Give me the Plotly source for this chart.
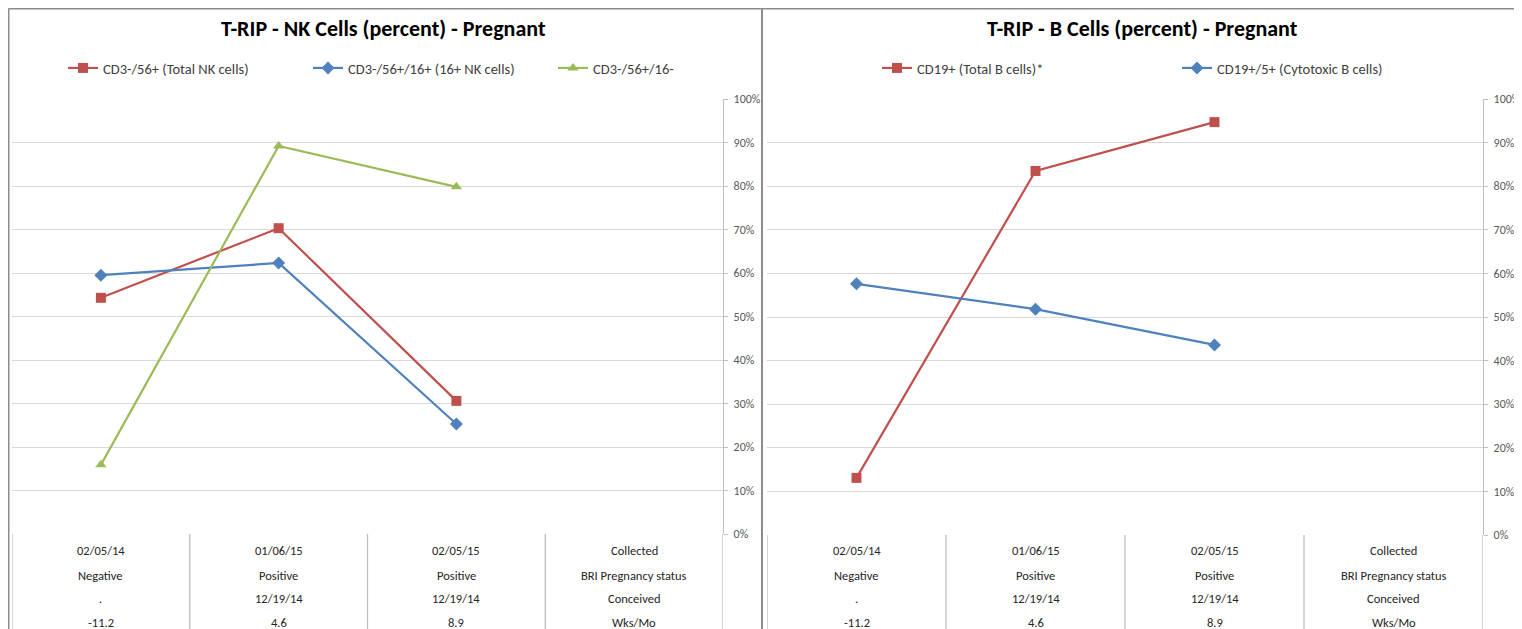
import plotly.graph_objects as go

# ---------------- data ----------------
collected = ["02/05/14", "01/06/15", "02/05/15", "Collected"]
status = ["Negative", "Positive", "Positive", "BRI Pregnancy status"]
conceived = [".", "12/19/14", "12/19/14", "Conceived"]
wks = ["-11.2", "4.6", "8.9", "Wks/Mo"]
x_pos = [0, 1, 2]

nk_total = [0.543, 0.703, 0.306]      # CD3-/56+ (Total NK cells)
nk_16pos = [0.595, 0.623, 0.253]      # CD3-/56+/16+ (16+ NK cells)
nk_16neg = [0.159, 0.892, 0.798]      # CD3-/56+/16-

b_total = [0.131, 0.835, 0.947]       # CD19+ (Total B cells)*
b_cyto = [0.576, 0.518, 0.436]        # CD19+/5+ (Cytotoxic B cells)

titles = ["T-RIP - NK Cells (percent) - Pregnant", "T-RIP - B Cells (percent) - Pregnant"]

RED = "#C0504D"
BLUE = "#4F81BD"
GREEN = "#9BBB59"
GRID = "#D9D9D9"
FONT = "Carlito, Lato, sans-serif"

W, H = 1522, 629
OFF = 8  # page body margin


def px(x):
    return max(x - OFF, 0.5) / W


def py(y):
    return 1 - max(y - OFF, 0.5) / H


fig = go.Figure()


def add_line(x, y, name, color, symbol, size, xa, ya, legend):
    fig.add_trace(go.Scatter(
        x=x, y=y, name=name, mode="lines+markers",
        line=dict(color=color, width=2.2),
        marker=dict(symbol=symbol, size=size, color=color),
        xaxis=xa, yaxis=ya, legend=legend,
    ))


add_line(x_pos, nk_total, "CD3-/56+ (Total NK cells)", RED, "square", 10, "x", "y", "legend")
add_line(x_pos, nk_16pos, "CD3-/56+/16+ (16+ NK cells)", BLUE, "diamond", 10, "x", "y", "legend")
add_line(x_pos, nk_16neg, "CD3-/56+/16-", GREEN, "triangle-up", 10, "x", "y", "legend")
add_line(x_pos, b_total, "CD19+ (Total B cells)*", RED, "square", 10, "x2", "y2", "legend2")
add_line(x_pos, b_cyto, "CD19+/5+ (Cytotoxic B cells)", BLUE, "diamond", 10, "x2", "y2", "legend2")

panels = [
    dict(xl=12, xr=723, y0=534, y1=99, title_x=383),
    dict(xl=767, xr=1483, y0=535, y1=99, title_x=1142),
]

axis_common_x = dict(range=[-0.5, 3.5], showticklabels=False, showgrid=False,
                     zeroline=False, showline=False, ticks="", fixedrange=True)
axis_common_y = dict(range=[0, 1], dtick=0.1, tickformat=".0%", side="right",
                     showgrid=True, gridcolor=GRID, gridwidth=1.3, zeroline=False,
                     showline=True, linecolor="#BFBFBF", linewidth=1.3,
                     ticks="outside", ticklen=4, tickcolor="#BFBFBF",
                     ticklabelstandoff=3,
                     tickfont=dict(family=FONT, size=12, color="#595959"),
                     automargin=False, fixedrange=True)

layout = dict(
    width=W, height=H, margin=dict(l=0, r=0, t=0, b=0, autoexpand=False),
    paper_bgcolor="white", plot_bgcolor="white",
    font=dict(family=FONT, size=12, color="#404040"),
)
for i, p in enumerate(panels):
    sx = "" if i == 0 else "2"
    layout["xaxis" + sx] = dict(domain=[px(p["xl"]), px(p["xr"])], anchor="y" + sx, **axis_common_x)
    layout["yaxis" + sx] = dict(domain=[py(p["y0"]), py(p["y1"])], anchor="x" + sx, **axis_common_y)
fig.update_layout(**layout)

fig.update_layout(
    legend=dict(orientation="h", x=px(63), y=py(68), xanchor="left", yanchor="middle",
                entrywidth=200, entrywidthmode="pixels", itemwidth=30,
                font=dict(family=FONT, size=14.5, color="#404040"), bgcolor="rgba(0,0,0,0)"),
    legend2=dict(orientation="h", x=px(877), y=py(68), xanchor="left", yanchor="middle",
                 entrywidth=255, entrywidthmode="pixels", itemwidth=30,
                 font=dict(family=FONT, size=14.5, color="#404040"), bgcolor="rgba(0,0,0,0)"),
)

shapes = []
annotations = []
row_y = [550, 575, 598, 622]
rows = [collected, status, conceived, wks]
for i, p in enumerate(panels):
    sx = "" if i == 0 else "2"
    # titles
    annotations.append(dict(text="<b>" + titles[i] + "</b>", x=px(p["title_x"]), y=py(29),
                            xref="paper", yref="paper", showarrow=False,
                            font=dict(family=FONT, size=22, color="#000000"),
                            xanchor="center", yanchor="middle"))
    # table vertical lines
    for b in [-0.5, 0.5, 1.5, 2.5, 3.5]:
        shapes.append(dict(type="line", xref="x" + sx, yref="paper", x0=b, x1=b,
                           y0=-0.05, y1=py(p["y0"]), line=dict(color="#BFBFBF", width=1.3)))
    # table text
    for r, vals in enumerate(rows):
        for c, v in enumerate(vals):
            annotations.append(dict(text=v, x=c, y=py(row_y[r]), xref="x" + sx, yref="paper",
                                    showarrow=False, xanchor="center", yanchor="middle",
                                    font=dict(family=FONT, size=12.5, color="#262626")))

# outer borders
shapes.append(dict(type="line", xref="paper", yref="paper", x0=px(4), x1=1.01, y0=py(6), y1=py(6),
                   line=dict(color="#8C8C8C", width=2)))
shapes.append(dict(type="line", xref="paper", yref="paper", x0=px(4), x1=px(4), y0=-0.05, y1=py(6),
                   line=dict(color="#8C8C8C", width=2)))
shapes.append(dict(type="line", xref="paper", yref="paper", x0=px(762), x1=px(762), y0=-0.05, y1=py(6),
                   line=dict(color="#8C8C8C", width=2)))

fig.update_layout(shapes=shapes, annotations=annotations)

fig.write_html("out.html")
